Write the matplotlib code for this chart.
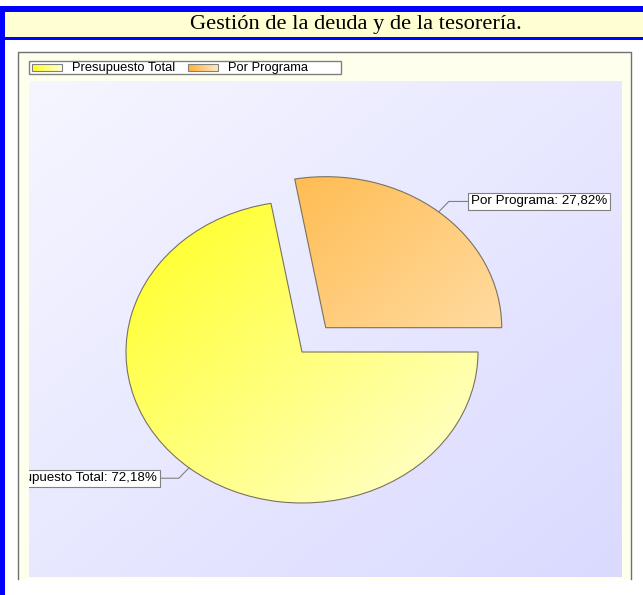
import numpy as np
import matplotlib
matplotlib.use('Agg')
import matplotlib.pyplot as plt
from matplotlib.patches import Rectangle
from matplotlib.colors import LinearSegmentedColormap

# datos del gráfico
titulo = 'Gestión de la deuda y de la tesorería.'
categorias = ['Presupuesto Total', 'Por Programa']
valores = [72.18, 27.82]
separacion = [0, 0.21]

# colores (inicio y fin del degradado)
col_ini = ['#ffff1e', '#ffb136']
col_fin = ['#ffffd6', '#ffe9c4']
azul = '#0000ff'
borde = '#808080'

W, H = 643, 595
fig = plt.figure(figsize=(W / 100, H / 100), dpi=100)
fig.patch.set_facecolor('white')

# capa de fondo en pixeles
bg = fig.add_axes([0, 0, 1, 1])
bg.axis('off')


def degradado(ax, c0, c1, extent, horizontal=False, clip=None, z=1):
    X, Y = np.meshgrid(np.linspace(0, 1, 200), np.linspace(0, 1, 200))
    t = X if horizontal else (X + Y) / 2
    cmap = LinearSegmentedColormap.from_list('g', [c0, c1])
    im = ax.imshow(t, cmap=cmap, extent=extent, origin='upper', aspect='auto',
                   interpolation='bilinear', zorder=z)
    if clip is not None:
        im.set_clip_path(clip)
    return im


# marco azul y barra del titulo
bg.add_patch(Rectangle((0, 6), W, 6, color=azul, lw=0))
bg.add_patch(Rectangle((0, 6), 5, H, color=azul, lw=0))
bg.add_patch(Rectangle((5, 12), W, 25, color='#ffffd2', lw=0))
bg.add_patch(Rectangle((5, 37), W, 3, color=azul, lw=0))
bg.text(356, 25, titulo, ha='center', va='center', fontsize=16.1,
        family='Liberation Serif', color='black')

# panel del grafico
bg.add_patch(Rectangle((18, 52), 613, 527, color='#ffffee', lw=0, zorder=0.1))
bg.plot([18, 18, 631, 631], [579, 52, 52, 579], color='#707070', lw=1, zorder=0.2)

# area del grafico con degradado
degradado(bg, '#f6f6ff', '#dadaff', [29, 622, 577, 81], z=0.5)

# leyenda
bg.add_patch(Rectangle((29, 61), 312, 13, facecolor='white', edgecolor=borde, lw=1, zorder=2))
ley_x = [32, 188]
for i, nombre in enumerate(categorias):
    x0 = ley_x[i]
    degradado(bg, col_ini[i], col_fin[i], [x0, x0 + 30, 71, 64], horizontal=True, z=3)
    bg.add_patch(Rectangle((x0, 64), 30, 7, fill=False, edgecolor=borde, lw=0.8, zorder=4))
    bg.text(x0 + 40, 67.5, nombre, ha='left', va='center', fontsize=9.3,
            family='Liberation Sans', zorder=4)

bg.set_xlim(0, W)
bg.set_ylim(H, 0)

# tarta (elipse: 176 px de ancho, 151 px de alto por unidad)
cx, cy, rx, ry = 302, 352, 176, 151
ax = fig.add_axes([29 / W, (H - 577) / H, 593 / W, 496 / H])
ax.patch.set_alpha(0)
wedges, _ = ax.pie(valores, explode=separacion, startangle=0, counterclock=False,
                   wedgeprops=dict(facecolor='none', edgecolor='#7a7260', lw=0.8))

for i, w in enumerate(wedges):
    wx, wy = w.center
    degradado(ax, col_ini[i], col_fin[i], [wx - 1, wx + 1, wy - 1, wy + 1], clip=w, z=0.9)
    w.set_zorder(1)

    # etiqueta con linea guia
    ang = np.deg2rad((w.theta1 + w.theta2) / 2)
    px, py = wx + np.cos(ang), wy + np.sin(ang)
    ex, ey = wx + 1.09 * np.cos(ang), wy + 1.09 * np.sin(ang)
    lado = 1 if np.cos(ang) >= 0 else -1
    hx = ex + lado * 19 / rx
    ax.plot([px, ex, hx], [py, ey, ey], color=borde, lw=0.8, zorder=2)
    txt = '%s: %s%%' % (categorias[i], ('%.2f' % valores[i]).replace('.', ','))
    ax.text(hx + lado * 3 / rx, ey, txt, ha='left' if lado > 0 else 'right', va='center',
            fontsize=9.6, family='Liberation Sans', zorder=3, clip_on=True,
            bbox=dict(facecolor='white', edgecolor=borde, lw=0.8, boxstyle='square,pad=0.2'))

ax.set_aspect('auto')
ax.set_xlim((29 - cx) / rx, (622 - cx) / rx)
ax.set_ylim((cy - 577) / ry, (cy - 81) / ry)
ax.axis('off')

fig.savefig('out.png', dpi=100)
